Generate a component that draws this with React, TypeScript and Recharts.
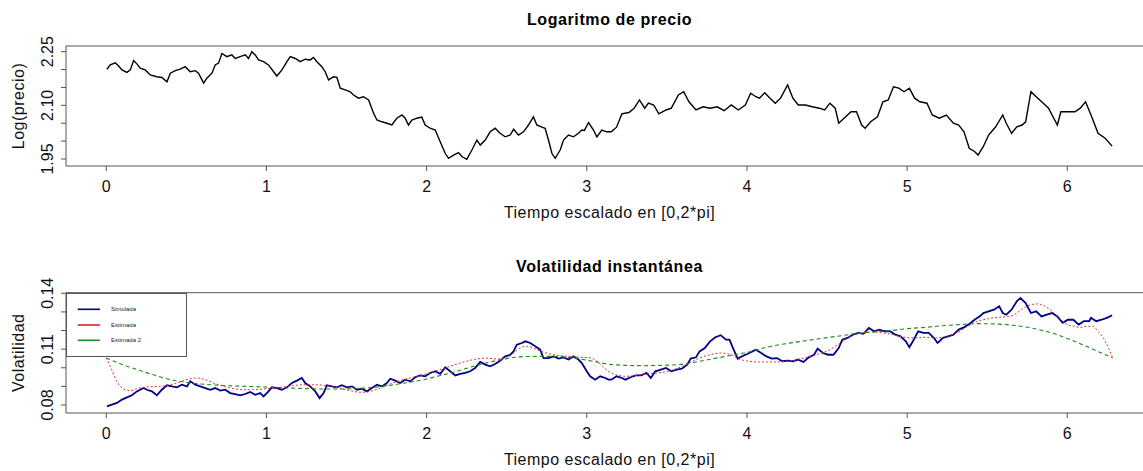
import React from 'react';
import { LineChart, Line, XAxis, YAxis, ReferenceArea, Legend } from 'recharts';

const FONT = '"Liberation Sans", Arial, Helvetica, sans-serif';

// ---------- axes ----------
const xTicks = [0, 1, 2, 3, 4, 5, 6];
const xDomain: [number, number] = [-0.2513, 6.5345];

const priceTicks = [1.95, 2.0, 2.05, 2.1, 2.15, 2.2, 2.25];
const priceLabeled = [1.95, 2.1, 2.25];
const priceDomain: [number, number] = [1.9304, 2.2659];

const volTicks = [0.08, 0.09, 0.1, 0.11, 0.12, 0.13, 0.14];
const volLabeled = [0.08, 0.11, 0.14];
const volDomain: [number, number] = [0.0757, 0.14032];

const titles = ['Logaritmo de precio', 'Volatilidad instantánea'];
const xLabel = 'Tiempo escalado en [0,2*pi]';
const yLabels = ['Log(precio)', 'Volatilidad'];
const legendNames = ['Simulada', 'Estimada', 'Estimada 2'];

// ---------- data: [t, value] ----------
const logPrice: [number, number][] = [
  [0.004, 2.201], [0.025, 2.213], [0.056, 2.219], [0.077, 2.21], [0.098, 2.199], [0.129, 2.192], [0.15, 2.199],
  [0.171, 2.225], [0.191, 2.216], [0.212, 2.204], [0.243, 2.199], [0.275, 2.185], [0.316, 2.18], [0.347, 2.178],
  [0.379, 2.166], [0.4, 2.19], [0.431, 2.197], [0.462, 2.201], [0.493, 2.208], [0.524, 2.194], [0.556, 2.197],
  [0.576, 2.19], [0.608, 2.162], [0.628, 2.176], [0.66, 2.19], [0.68, 2.213], [0.701, 2.218], [0.722, 2.245],
  [0.753, 2.236], [0.784, 2.241], [0.805, 2.231], [0.836, 2.236], [0.868, 2.241], [0.888, 2.231], [0.909, 2.25],
  [0.93, 2.241], [0.951, 2.227], [0.982, 2.222], [1.013, 2.213], [1.045, 2.194], [1.065, 2.182], [1.097, 2.199],
  [1.128, 2.222], [1.149, 2.236], [1.18, 2.231], [1.211, 2.222], [1.242, 2.229], [1.273, 2.227], [1.294, 2.234],
  [1.315, 2.222], [1.346, 2.208], [1.367, 2.194], [1.388, 2.171], [1.419, 2.18], [1.44, 2.178], [1.461, 2.148],
  [1.492, 2.143], [1.523, 2.138], [1.544, 2.129], [1.575, 2.12], [1.606, 2.124], [1.638, 2.115], [1.669, 2.078],
  [1.69, 2.059], [1.721, 2.054], [1.752, 2.05], [1.783, 2.045], [1.814, 2.064], [1.846, 2.073], [1.866, 2.064],
  [1.887, 2.045], [1.908, 2.059], [1.939, 2.064], [1.97, 2.067], [1.991, 2.045], [2.022, 2.036], [2.054, 2.031],
  [2.085, 1.998], [2.116, 1.966], [2.137, 1.952], [2.168, 1.961], [2.199, 1.968], [2.22, 1.957], [2.251, 1.949],
  [2.283, 1.975], [2.314, 2.003], [2.335, 1.989], [2.366, 2.003], [2.397, 2.026], [2.428, 2.036], [2.459, 2.022],
  [2.491, 2.012], [2.522, 2.017], [2.543, 2.033], [2.574, 2.017], [2.605, 2.026], [2.636, 2.045], [2.667, 2.068],
  [2.688, 2.045], [2.72, 2.039], [2.74, 2.036], [2.761, 2.003], [2.782, 1.966], [2.803, 1.952], [2.834, 1.975],
  [2.855, 2.003], [2.886, 2.017], [2.917, 2.012], [2.948, 2.022], [2.969, 2.031], [2.985, 2.03], [3.011, 2.052],
  [3.042, 2.031], [3.063, 2.012], [3.094, 2.031], [3.125, 2.026], [3.153, 2.026], [3.186, 2.039], [3.219, 2.076],
  [3.263, 2.08], [3.296, 2.092], [3.329, 2.115], [3.362, 2.092], [3.385, 2.106], [3.418, 2.101], [3.45, 2.076],
  [3.495, 2.087], [3.528, 2.092], [3.572, 2.129], [3.605, 2.138], [3.638, 2.11], [3.682, 2.087], [3.726, 2.096],
  [3.77, 2.092], [3.814, 2.096], [3.858, 2.085], [3.902, 2.101], [3.946, 2.087], [3.99, 2.101], [4.023, 2.134],
  [4.056, 2.124], [4.078, 2.12], [4.111, 2.135], [4.144, 2.12], [4.177, 2.106], [4.21, 2.12], [4.254, 2.157],
  [4.287, 2.12], [4.32, 2.101], [4.364, 2.101], [4.408, 2.096], [4.452, 2.092], [4.485, 2.087], [4.518, 2.106],
  [4.551, 2.092], [4.573, 2.05], [4.606, 2.064], [4.65, 2.082], [4.684, 2.082], [4.716, 2.045], [4.738, 2.036],
  [4.772, 2.054], [4.815, 2.068], [4.849, 2.11], [4.882, 2.115], [4.915, 2.152], [4.948, 2.148], [4.981, 2.138],
  [5.014, 2.148], [5.047, 2.12], [5.08, 2.11], [5.124, 2.106], [5.157, 2.073], [5.201, 2.064], [5.245, 2.073],
  [5.289, 2.05], [5.322, 2.045], [5.355, 2.026], [5.388, 1.98], [5.421, 1.971], [5.443, 1.961], [5.476, 1.985],
  [5.509, 2.017], [5.553, 2.04], [5.597, 2.073], [5.619, 2.05], [5.652, 2.022], [5.685, 2.04], [5.718, 2.045],
  [5.74, 2.054], [5.773, 2.138], [5.806, 2.124], [5.85, 2.106], [5.883, 2.092], [5.905, 2.073], [5.938, 2.045],
  [5.96, 2.082], [6.004, 2.082], [6.048, 2.082], [6.081, 2.092], [6.114, 2.11], [6.148, 2.073], [6.192, 2.022],
  [6.236, 2.008], [6.28, 1.986],
];

const volSimulada: [number, number][] = [
  [0.004, 0.0793], [0.035, 0.0802], [0.067, 0.0811], [0.098, 0.0829], [0.129, 0.0841], [0.16, 0.0852], [0.191, 0.0873],
  [0.212, 0.0882], [0.233, 0.0891], [0.254, 0.0882], [0.285, 0.0873], [0.316, 0.0852], [0.347, 0.0882], [0.379, 0.0906],
  [0.41, 0.09], [0.441, 0.0895], [0.472, 0.0909], [0.504, 0.09], [0.524, 0.0927], [0.556, 0.0909], [0.587, 0.09],
  [0.618, 0.0891], [0.649, 0.0882], [0.68, 0.0891], [0.712, 0.0877], [0.743, 0.0882], [0.774, 0.0864], [0.805, 0.0859],
  [0.836, 0.0852], [0.868, 0.0859], [0.899, 0.087], [0.93, 0.0855], [0.961, 0.0864], [0.982, 0.0846], [1.013, 0.0873],
  [1.034, 0.0895], [1.065, 0.0891], [1.097, 0.0882], [1.128, 0.0895], [1.159, 0.0918], [1.19, 0.0931], [1.221, 0.0945],
  [1.242, 0.0918], [1.273, 0.09], [1.305, 0.0873], [1.332, 0.0837], [1.357, 0.0864], [1.377, 0.0906], [1.409, 0.09],
  [1.44, 0.0895], [1.471, 0.0906], [1.502, 0.0895], [1.534, 0.09], [1.565, 0.0882], [1.596, 0.0888], [1.627, 0.0873],
  [1.658, 0.0891], [1.69, 0.0909], [1.721, 0.09], [1.752, 0.0918], [1.773, 0.0941], [1.804, 0.0931], [1.835, 0.0918],
  [1.866, 0.0936], [1.898, 0.0927], [1.929, 0.0949], [1.96, 0.0959], [1.991, 0.0954], [2.022, 0.0972], [2.054, 0.0981],
  [2.085, 0.0967], [2.116, 0.1002], [2.147, 0.0981], [2.179, 0.0959], [2.21, 0.0967], [2.241, 0.0972], [2.272, 0.0981],
  [2.303, 0.0999], [2.335, 0.1031], [2.366, 0.1017], [2.397, 0.1008], [2.428, 0.102], [2.459, 0.1038], [2.491, 0.1061],
  [2.522, 0.107], [2.543, 0.1088], [2.563, 0.1124], [2.595, 0.1133], [2.616, 0.1142], [2.647, 0.1133], [2.678, 0.1115],
  [2.709, 0.1097], [2.73, 0.1052], [2.761, 0.1052], [2.792, 0.1061], [2.824, 0.1049], [2.855, 0.1056], [2.886, 0.1044],
  [2.917, 0.1061], [2.948, 0.1044], [2.969, 0.1025], [3.0, 0.0981], [3.021, 0.0954], [3.052, 0.0936], [3.084, 0.0954],
  [3.115, 0.0945], [3.136, 0.0936], [3.153, 0.0936], [3.186, 0.0954], [3.219, 0.0945], [3.241, 0.0936], [3.274, 0.0949],
  [3.307, 0.0959], [3.34, 0.0959], [3.373, 0.0972], [3.4, 0.0945], [3.428, 0.0981], [3.462, 0.099], [3.495, 0.0999],
  [3.528, 0.0981], [3.561, 0.099], [3.594, 0.0995], [3.627, 0.1017], [3.649, 0.1049], [3.682, 0.1056], [3.704, 0.1088],
  [3.737, 0.1106], [3.77, 0.1142], [3.803, 0.1164], [3.836, 0.1175], [3.869, 0.1151], [3.891, 0.1151], [3.913, 0.1106],
  [3.942, 0.1049], [3.968, 0.1061], [4.001, 0.1074], [4.034, 0.1088], [4.056, 0.1097], [4.089, 0.1079], [4.122, 0.1061],
  [4.155, 0.1049], [4.188, 0.1052], [4.221, 0.1035], [4.254, 0.1038], [4.287, 0.1035], [4.32, 0.1044], [4.353, 0.1031],
  [4.386, 0.1056], [4.419, 0.107], [4.441, 0.1103], [4.474, 0.1079], [4.507, 0.107], [4.54, 0.107], [4.573, 0.1106],
  [4.595, 0.1151], [4.628, 0.116], [4.662, 0.1178], [4.695, 0.1187], [4.728, 0.1182], [4.761, 0.1214], [4.794, 0.1196],
  [4.827, 0.1205], [4.86, 0.1196], [4.893, 0.1196], [4.926, 0.1178], [4.959, 0.1169], [4.992, 0.1142], [5.014, 0.111],
  [5.036, 0.1142], [5.069, 0.1196], [5.102, 0.1187], [5.135, 0.1187], [5.168, 0.116], [5.19, 0.1133], [5.223, 0.116],
  [5.256, 0.1169], [5.289, 0.1178], [5.322, 0.1205], [5.355, 0.1217], [5.388, 0.1235], [5.421, 0.1258], [5.454, 0.1276],
  [5.476, 0.1294], [5.509, 0.1303], [5.542, 0.1312], [5.575, 0.133], [5.597, 0.1294], [5.619, 0.1285], [5.652, 0.1312],
  [5.685, 0.1357], [5.707, 0.1375], [5.74, 0.1348], [5.773, 0.1294], [5.806, 0.1303], [5.839, 0.1276], [5.872, 0.1285],
  [5.905, 0.1294], [5.938, 0.1276], [5.971, 0.1241], [6.004, 0.1258], [6.038, 0.1258], [6.071, 0.1232], [6.104, 0.125],
  [6.137, 0.125], [6.148, 0.1268], [6.181, 0.125], [6.214, 0.1258], [6.247, 0.1268], [6.28, 0.1282],
];

const volEstimada: [number, number][] = [
  [0, 0.1053], [0.025, 0.1008], [0.056, 0.0945], [0.087, 0.09], [0.119, 0.0882], [0.15, 0.0877], [0.191, 0.0888],
  [0.233, 0.0895], [0.285, 0.0898], [0.337, 0.09], [0.4, 0.0909], [0.462, 0.0924], [0.524, 0.0941], [0.566, 0.0945],
  [0.618, 0.0936], [0.67, 0.0918], [0.732, 0.09], [0.795, 0.0888], [0.857, 0.0882], [0.92, 0.0882], [0.982, 0.0886],
  [1.045, 0.0891], [1.107, 0.0897], [1.169, 0.0904], [1.232, 0.0909], [1.294, 0.0909], [1.357, 0.0906], [1.419, 0.0897],
  [1.481, 0.0886], [1.544, 0.0873], [1.586, 0.0868], [1.648, 0.0873], [1.71, 0.0891], [1.773, 0.0913], [1.835, 0.0931],
  [1.898, 0.0945], [1.981, 0.0963], [2.064, 0.0984], [2.147, 0.1008], [2.231, 0.1031], [2.314, 0.1047], [2.376, 0.1052],
  [2.439, 0.1047], [2.501, 0.1052], [2.543, 0.1079], [2.584, 0.1106], [2.626, 0.1115], [2.72, 0.1086], [2.8, 0.1069],
  [2.9, 0.106], [2.97, 0.1056], [3.021, 0.1053], [3.065, 0.1035], [3.109, 0.0999], [3.153, 0.0972], [3.197, 0.0959],
  [3.241, 0.0954], [3.307, 0.0959], [3.373, 0.0967], [3.439, 0.0972], [3.506, 0.0981], [3.572, 0.0999], [3.638, 0.1025],
  [3.704, 0.1052], [3.77, 0.107], [3.836, 0.1079], [3.902, 0.107], [3.946, 0.1049], [4.012, 0.1035], [4.078, 0.1031],
  [4.166, 0.1031], [4.254, 0.1035], [4.342, 0.1049], [4.43, 0.107], [4.518, 0.1097], [4.584, 0.1133], [4.65, 0.1169],
  [4.716, 0.1187], [4.782, 0.1192], [4.848, 0.1187], [4.915, 0.1178], [4.981, 0.1164], [5.047, 0.116], [5.113, 0.1164],
  [5.179, 0.116], [5.245, 0.1169], [5.311, 0.1187], [5.377, 0.1223], [5.443, 0.125], [5.509, 0.1264], [5.575, 0.1271],
  [5.641, 0.1276], [5.685, 0.1294], [5.729, 0.1321], [5.773, 0.1339], [5.817, 0.1343], [5.861, 0.133], [5.905, 0.1303],
  [5.949, 0.1268], [5.993, 0.1235], [6.038, 0.1223], [6.082, 0.1217], [6.126, 0.1223], [6.159, 0.1223], [6.192, 0.1196],
  [6.225, 0.116], [6.258, 0.1106], [6.283, 0.1053],
];

const volEstimada2: [number, number][] = [
  [0, 0.1053], [0.108, 0.1015], [0.212, 0.0985], [0.316, 0.0956], [0.42, 0.0933], [0.524, 0.0919], [0.628, 0.091],
  [0.732, 0.0905], [0.836, 0.0901], [0.94, 0.0898], [1.045, 0.0895], [1.149, 0.0891], [1.253, 0.0888], [1.357, 0.0886],
  [1.461, 0.0886], [1.565, 0.0888], [1.669, 0.0895], [1.773, 0.0906], [1.877, 0.092], [1.981, 0.0936], [2.085, 0.0958],
  [2.189, 0.0981], [2.293, 0.1008], [2.397, 0.1031], [2.501, 0.1049], [2.605, 0.106], [2.709, 0.1061], [2.813, 0.1061],
  [2.917, 0.1052], [3.021, 0.1038], [3.131, 0.102], [3.241, 0.1013], [3.351, 0.1011], [3.462, 0.1013], [3.572, 0.1017],
  [3.682, 0.1031], [3.792, 0.1049], [3.902, 0.1067], [4.012, 0.1085], [4.122, 0.111], [4.232, 0.1128], [4.342, 0.1142],
  [4.452, 0.1156], [4.562, 0.1169], [4.672, 0.1182], [4.782, 0.1192], [4.893, 0.1199], [5.003, 0.121], [5.113, 0.1217],
  [5.223, 0.1226], [5.333, 0.1232], [5.443, 0.1237], [5.553, 0.1235], [5.663, 0.1228], [5.773, 0.1214], [5.883, 0.1192],
  [5.993, 0.116], [6.104, 0.1121], [6.214, 0.1079], [6.283, 0.1053],
];

const toRows = (pts: [number, number][]) => pts.map(([t, v]) => ({ t, v }));

const priceRows = toRows(logPrice);
const simRows = toRows(volSimulada);
const estRows = toRows(volEstimada);
const est2Rows = toRows(volEstimada2);

const legendColors = ['#00008B', '#dd2222', '#228B22'];

// ---------- layout constants ----------
const CHART_W = 1200;
const PLOT_RIGHT = 1152.9;
const Y_AXIS_W = 66;
const X_AXIS_H = 30;

const makeXTick = (baseline: number) => (props: any) => (
  <text
    x={props.x}
    y={baseline}
    textAnchor="middle"
    fontFamily={FONT}
    fontSize={16}
    fill="#111"
  >
    {props.payload.value}
  </text>
);

const makeYTick = (labeled: number[], fmt: (v: number) => string) => (props: any) => {
  const v = props.payload.value;
  const show = labeled.some((l) => Math.abs(l - v) < 1e-6);
  if (!show) return <g />;
  const bx = 53.5;
  return (
    <text
      x={bx}
      y={props.y}
      transform={`rotate(-90 ${bx} ${props.y})`}
      textAnchor="middle"
      fontFamily={FONT}
      fontSize={16}
      fill="#111"
    >
      {fmt(v)}
    </text>
  );
};

const LegendBox = () => {
  const rows = [16.3, 32, 47.3];
  return (
    <div
      style={{
        width: 121,
        height: 64,
        boxSizing: 'border-box',
        border: '1px solid #555',
        background: '#fff',
      }}
    >
      <svg width={119} height={62} style={{ display: 'block' }}>
        {legendNames.map((name, i) => (
          <g key={name}>
            <line x1={10.7} x2={33} y1={rows[i] - 1} y2={rows[i] - 1} stroke={legendColors[i]} strokeWidth={1.6} />
            <text x={44} y={rows[i] + 1} fontFamily={FONT} fontSize={6} fill="#222">
              {name}
            </text>
          </g>
        ))}
      </svg>
    </div>
  );
};

export default function App() {
  const top1 = 46;
  const h1 = 235;
  const bottom1 = 166; // plot bottom in chart-1 coords
  const top2 = 52.7;
  const h2 = 231;
  const bottom2 = 173; // plot bottom in chart-2 coords

  return (
    <div
      style={{
        position: 'absolute',
        left: 0,
        top: 0,
        width: 1143,
        height: 471,
        overflow: 'hidden',
        background: '#fff',
      }}
    >
      <div style={{ position: 'absolute', left: 0, top: 0 }}>
        <LineChart
          width={CHART_W}
          height={h1}
          margin={{ top: top1, right: CHART_W - PLOT_RIGHT, bottom: h1 - bottom1 - X_AXIS_H, left: 0 }}
        >
          <XAxis
            dataKey="t"
            type="number"
            domain={xDomain}
            ticks={xTicks}
            interval={0}
            allowDataOverflow
            axisLine={false}
            tickLine={{ stroke: '#555' }}
            tickSize={5}
            height={X_AXIS_H}
            tick={makeXTick(bottom1 + 26.3)}
          />
          <YAxis
            type="number"
            domain={priceDomain}
            ticks={priceTicks}
            interval={0}
            allowDataOverflow
            width={Y_AXIS_W}
            axisLine={false}
            tickLine={{ stroke: '#555' }}
            tickSize={5}
            tick={makeYTick(priceLabeled, (v) => v.toFixed(2))}
          />
          <ReferenceArea
            x1={xDomain[0]}
            x2={xDomain[1]}
            y1={priceDomain[0]}
            y2={priceDomain[1]}
            fill="none"
            stroke="#555"
            strokeWidth={1}
            ifOverflow="visible"
          />
          <Line
            data={priceRows}
            dataKey="v"
            type="linear"
            stroke="#000"
            strokeWidth={1.4}
            dot={false}
            isAnimationActive={false}
          />
        </LineChart>
      </div>

      <div style={{ position: 'absolute', left: 0, top: 240 }}>
        <LineChart
          width={CHART_W}
          height={h2}
          margin={{ top: top2, right: CHART_W - PLOT_RIGHT, bottom: h2 - bottom2 - X_AXIS_H, left: 0 }}
        >
          <XAxis
            dataKey="t"
            type="number"
            domain={xDomain}
            ticks={xTicks}
            interval={0}
            allowDataOverflow
            axisLine={false}
            tickLine={{ stroke: '#555' }}
            tickSize={5}
            height={X_AXIS_H}
            tick={makeXTick(bottom2 + 26.3)}
          />
          <YAxis
            type="number"
            domain={volDomain}
            ticks={volTicks}
            interval={0}
            allowDataOverflow
            width={Y_AXIS_W}
            axisLine={false}
            tickLine={{ stroke: '#555' }}
            tickSize={5}
            tick={makeYTick(volLabeled, (v) => v.toFixed(2))}
          />
          <ReferenceArea
            x1={xDomain[0]}
            x2={xDomain[1]}
            y1={volDomain[0]}
            y2={volDomain[1]}
            fill="none"
            stroke="#555"
            strokeWidth={1}
            ifOverflow="visible"
          />
          <Line
            data={simRows}
            dataKey="v"
            name={legendNames[0]}
            type="linear"
            stroke="#00008B"
            strokeWidth={1.8}
            dot={false}
            isAnimationActive={false}
          />
          <Line
            data={estRows}
            dataKey="v"
            name={legendNames[1]}
            type="monotone"
            stroke="#e03333"
            strokeWidth={1}
            strokeDasharray="2 2"
            dot={false}
            isAnimationActive={false}
          />
          <Line
            data={est2Rows}
            dataKey="v"
            name={legendNames[2]}
            type="monotone"
            stroke="#1f8a1f"
            strokeWidth={1.1}
            strokeDasharray="4 3"
            dot={false}
            isAnimationActive={false}
          />
          <Legend
            layout="horizontal"
            verticalAlign="middle"
            align="center"
            content={() => <LegendBox />}
            wrapperStyle={{ left: Y_AXIS_W, top: top2, width: 121, height: 64, right: 'auto', bottom: 'auto' }}
          />
        </LineChart>
      </div>

      <svg
        width={1143}
        height={471}
        style={{ position: 'absolute', left: 0, top: 0, pointerEvents: 'none' }}
      >
        <g fontFamily={FONT} fill="#000">
          <text x={609.5} y={25} textAnchor="middle" fontSize={16} fontWeight="bold" letterSpacing={0.6}>
            {titles[0]}
          </text>
          <text x={609.5} y={271.5} textAnchor="middle" fontSize={16} fontWeight="bold" letterSpacing={0.6}>
            {titles[1]}
          </text>
          <text x={609.5} y={218.3} textAnchor="middle" fontSize={16} letterSpacing={0.5} fill="#111">
            {xLabel}
          </text>
          <text x={609.5} y={465.3} textAnchor="middle" fontSize={16} letterSpacing={0.5} fill="#111">
            {xLabel}
          </text>
          <text
            x={24}
            y={106}
            transform="rotate(-90 24 106)"
            textAnchor="middle"
            fontSize={16}
            letterSpacing={0.5}
            fill="#111"
          >
            {yLabels[0]}
          </text>
          <text
            x={24}
            y={352.8}
            transform="rotate(-90 24 352.8)"
            textAnchor="middle"
            fontSize={16}
            letterSpacing={0.5}
            fill="#111"
          >
            {yLabels[1]}
          </text>
        </g>
      </svg>
    </div>
  );
}
